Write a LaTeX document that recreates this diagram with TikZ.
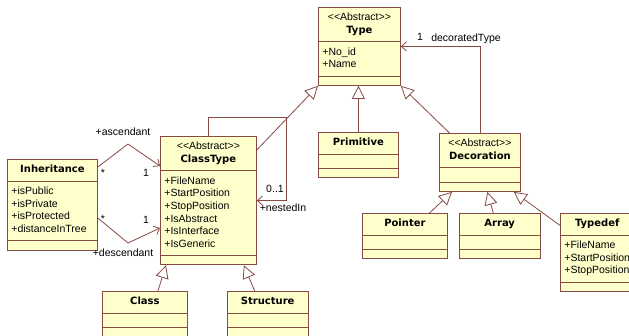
\documentclass[tikz,border=0pt]{standalone}
\usepackage{fontspec}
\setmainfont{Liberation Sans}
\newfontfamily\namefont{DejaVu Sans}
\usepackage{tikz}
\usetikzlibrary{shapes.multipart,arrows.meta,positioning}

\definecolor{umlfill}{RGB}{255,255,204}
\definecolor{umlline}{RGB}{135,75,65}
\newcommand{\stereo}{<\kern0pt<Abstract>\kern0pt>}
\newcommand{\cname}[1]{{\namefont\bfseries\fontsize{10}{12.6}\selectfont #1}}
\newcommand{\hdr}[1]{\begin{tabular}{@{}c@{}}#1\end{tabular}}
\newcommand{\mbr}[1]{\begin{tabular}{@{}l@{}}#1\end{tabular}}
\newcommand{\nil}{\hspace*{1pt}}

\begin{document}
\begin{tikzpicture}[x=1pt, y=-1pt, font=\fontsize{10.5}{12.6}\selectfont]
  % Define styles
  \tikzstyle{umlclass} = [rectangle split, rectangle split parts=3, rectangle split part align={center,left,left}, draw=umlline, fill=umlfill, line width=0.8pt, inner xsep=4pt, inner ysep=4.2pt, anchor=north west]
  \tikzstyle{gen} = [draw=umlline, line width=0.8pt, -{Triangle[open, length=13pt, width=13pt]}]
  \tikzstyle{assoc} = [draw=umlline, line width=0.8pt, -{Straight Barb[length=5pt, width=9pt]}]
  \tikzstyle{lbl} = [inner sep=0pt]

  \useasboundingbox (0,0) rectangle (629,335);
  \clip (0,0) rectangle (629,335);

  % Classes
  \node [umlclass, minimum width=82pt] (type) at (318,7) {\hdr{\stereo\\\cname{Type}} \nodepart{second}\mbr{+No\_id\\+Name} \nodepart{third}\nil};
  \node [umlclass, minimum width=80pt] (primitive) at (318,132) {\hdr{\cname{Primitive}} \nodepart{second}\nil \nodepart{third}\nil};
  \node [umlclass, minimum width=96pt] (classtype) at (160,136) {\hdr{\stereo\\\cname{ClassType}} \nodepart{second}\mbr{+FileName\\+StartPosition\\+StopPosition\\+IsAbstract\\+IsInterface\\+IsGeneric} \nodepart{third}\nil};
  \node [umlclass, minimum width=90pt] (inheritance) at (7,159) {\hdr{\cname{Inheritance}} \nodepart{second}\mbr{+isPublic\\+isPrivate\\+isProtected\\+distanceInTree} \nodepart{third}\nil};
  \node [umlclass, minimum width=85pt] (cls) at (102,291) {\hdr{\cname{Class}} \nodepart{second}\nil \nodepart{third}\nil};
  \node [umlclass, minimum width=81pt, right=39pt of cls] (structure) {\hdr{\cname{Structure}} \nodepart{second}\nil \nodepart{third}\nil};
  \node [umlclass, minimum width=81pt] (decoration) at (439,133) {\hdr{\stereo\\\cname{Decoration}} \nodepart{second}\nil \nodepart{third}\nil};
  \node [umlclass, minimum width=85pt] (pointer) at (362,213) {\hdr{\cname{Pointer}} \nodepart{second}\nil \nodepart{third}\nil};
  \node [umlclass, minimum width=81pt, right=11pt of pointer] (array) {\hdr{\cname{Array}} \nodepart{second}\nil \nodepart{third}\nil};
  \node [umlclass, minimum width=72pt] (typedef) at (560,213) {\hdr{\cname{Typedef}} \nodepart{second}\mbr{+FileName\\+StartPosition\\+StopPosition} \nodepart{third}\nil};

  % Generalizations
  \draw [gen] (primitive.north) -- (primitive.north |- type.south);
  \draw [gen] (classtype) -- (type.south west);
  \draw [gen] (decoration) -- (type.south east);
  \draw [gen] ([xshift=13pt]cls.north) -- ([xshift=6pt]classtype.south west);
  \draw [gen] ([xshift=-13pt]structure.north) -- ([xshift=-13pt]classtype.south east);
  \draw [gen] (pointer) -- ([xshift=13pt]decoration.south west);
  \draw [gen] (array) -- ([xshift=7.5pt]decoration.south);
  \draw [gen] (typedef) -- ([xshift=-7pt]decoration.south east);

  % Associations
  \draw [assoc] (decoration.north) |- (type.east);
  \draw [assoc] (classtype.north) -- ++(0,-19) -| ([xshift=30pt]classtype.east) -- (classtype.east);
  \draw [assoc] ([yshift=-8pt]inheritance.north east) -- (128,144) -- ([yshift=-30pt]classtype.north west);
  \draw [assoc] ([yshift=-59pt]inheritance.north east) -- (128,243) -- ([yshift=-92pt]classtype.north west);

  % Role names and multiplicities
  \node [lbl] (decoone) at (420,37) {1};
  \node [lbl] (deconame) at (466,39) {decoratedType};
  \node [lbl] (nestmult) at (275,189) {0..1};
  \node [lbl] (nestname) at (283,208) {+nestedIn};
  \node [lbl] (ascname) at (123,132) {+ascendant};
  \node [lbl] (ascstar) at (103,173) {*};
  \node [lbl] (ascone) at (146,173) {1};
  \node [lbl] (descstar) at (103,219) {*};
  \node [lbl] (descone) at (146,220) {1};
  \node [lbl] (descname) at (123,253) {+descendant};
\end{tikzpicture}
\end{document}
